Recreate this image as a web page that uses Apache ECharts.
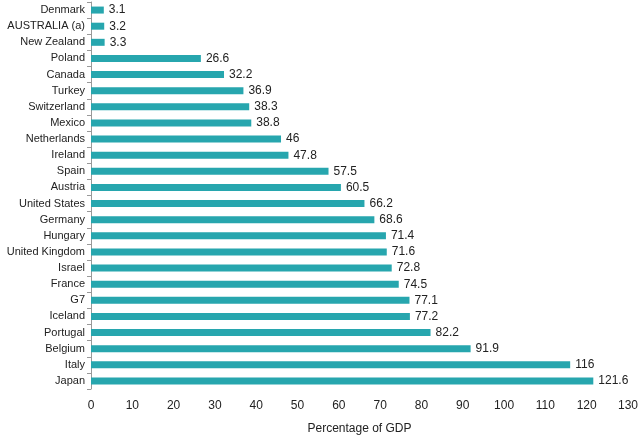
<!DOCTYPE html>
<html><head><meta charset="utf-8">
<script src="https://cdn.jsdelivr.net/npm/echarts@6/dist/echarts.min.js"></script>
<style>html,body{margin:0;padding:0;background:#fff}#c{width:640px;height:436px}</style>
</head><body><div id="c"></div>
<script>
const categories = ["Denmark","AUSTRALIA (a)","New Zealand","Poland","Canada","Turkey","Switzerland","Mexico","Netherlands","Ireland","Spain","Austria","United States","Germany","Hungary","United Kingdom","Israel","France","G7","Iceland","Portugal","Belgium","Italy","Japan"];
const values = [3.1,3.2,3.3,26.6,32.2,36.9,38.3,38.8,46,47.8,57.5,60.5,66.2,68.6,71.4,71.6,72.8,74.5,77.1,77.2,82.2,91.9,116,121.6];
const xTicks = {min:0, max:130, interval:10};
const chart = echarts.init(document.getElementById('c'));
chart.setOption({
  animation:false,
  textStyle:{fontFamily:'Liberation Sans, Arial, sans-serif'},
  grid:{left:91, right:12, top:2, bottom:47, containLabel:false, outerBoundsMode:'none'},
  xAxis:{type:'value', min:xTicks.min, max:xTicks.max, interval:xTicks.interval,
    name:'Percentage of GDP', nameLocation:'middle', nameGap:34,
    nameTextStyle:{fontSize:12, color:'#222'},
    axisLine:{show:false}, axisTick:{show:false}, splitLine:{show:false},
    axisLabel:{fontSize:12, color:'#222', margin:11}},
  yAxis:{type:'category', data:categories, inverse:true,
    axisLine:{show:true, lineStyle:{color:'#999'}},
    axisTick:{show:true, length:4, lineStyle:{color:'#999'}},
    axisLabel:{fontSize:11, color:'#222', margin:6}},
  series:[{type:'bar', data:values, barWidth:7,
    itemStyle:{color:'#27a6ae'},
    label:{show:true, position:'right', distance:5, fontSize:12, color:'#222'}}]
});
</script></body></html>
